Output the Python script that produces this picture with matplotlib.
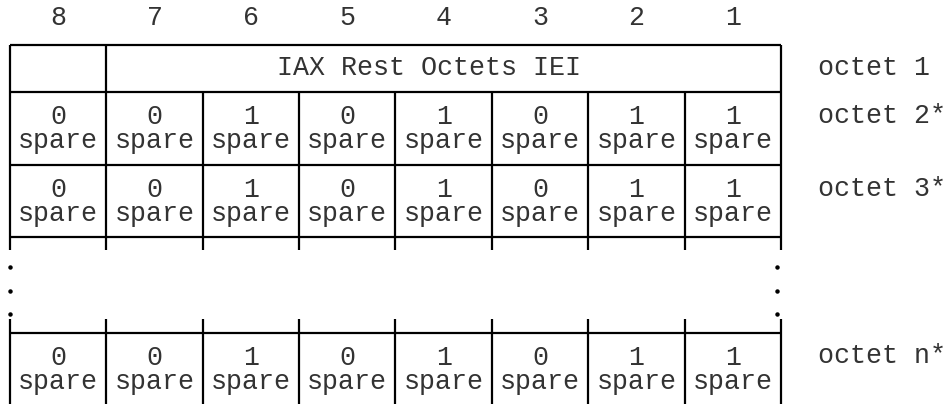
import matplotlib
matplotlib.use("Agg")
import matplotlib.pyplot as plt

# chart content
bit_numbers = [8, 7, 6, 5, 4, 3, 2, 1]
iei_label = "IAX Rest Octets IEI"
bit_values = [0, 0, 1, 0, 1, 0, 1, 1]
bit_names = ["spare"] * 8
octet_labels = ["octet 1", "octet 2*", "octet 3*", "octet n*"]

# layout (figure pixels)
W, H = 948, 404
x_left, x_right = 10, 781
col_w = (x_right - x_left) / 8
y_top, y_o1, y_o2, y_o3 = 45, 92, 165, 237
y_stub_end, y_stub_start, y_on = 250, 319, 333
dot_ys = [267, 291, 314]
lw = 1.6
font = dict(family="Liberation Mono", fontsize=19.2, color="#333333")

fig = plt.figure(figsize=(W / 100, H / 100), dpi=100)
ax = fig.add_axes([0, 0, 1, 1])
ax.set_xlim(0, W)
ax.set_ylim(H, 0)
ax.axis("off")

col_x = [x_left + i * col_w for i in range(9)]
centers = [x_left + (i + 0.5) * col_w for i in range(8)]

# bit numbers
for cx, b in zip(centers, bit_numbers):
    ax.text(cx, 18, str(b), ha="center", va="center", **font)

# horizontal lines
for y in [y_top, y_o1, y_o2, y_o3, y_on]:
    ax.plot([x_left, x_right], [y, y], color="black", lw=lw, solid_capstyle="butt")

# vertical lines, upper and lower blocks
for i, x in enumerate(col_x):
    y0 = y_top if i in (0, 1, 8) else y_o1
    ax.plot([x, x], [y0, y_stub_end], color="black", lw=lw, solid_capstyle="butt")
    ax.plot([x, x], [y_stub_start, H], color="black", lw=lw, solid_capstyle="butt")

# continuation dots
for y in dot_ys:
    ax.plot([x_left, x_right - 4], [y, y], ls="none", marker="o", ms=2.2, color="black")

# octet 1
ax.text(429, 68, iei_label, ha="center", va="center", **font)

# bit rows
row_spans = [(y_o1, y_o2), (y_o2, y_o3), (y_on, H)]
for top, bottom in row_spans:
    for cx, v, name in zip(centers, bit_values, bit_names):
        ax.text(cx, top + 25, str(v), ha="center", va="center", **font)
        ax.text(cx, top + 49, name, ha="center", va="center", **font)

# octet labels
label_ys = [68, y_o1 + 24, y_o2 + 24, y_on + 23]
for y, lab in zip(label_ys, octet_labels):
    ax.text(818, y, lab, ha="left", va="center", **font)

fig.savefig("out.png", dpi=100)
